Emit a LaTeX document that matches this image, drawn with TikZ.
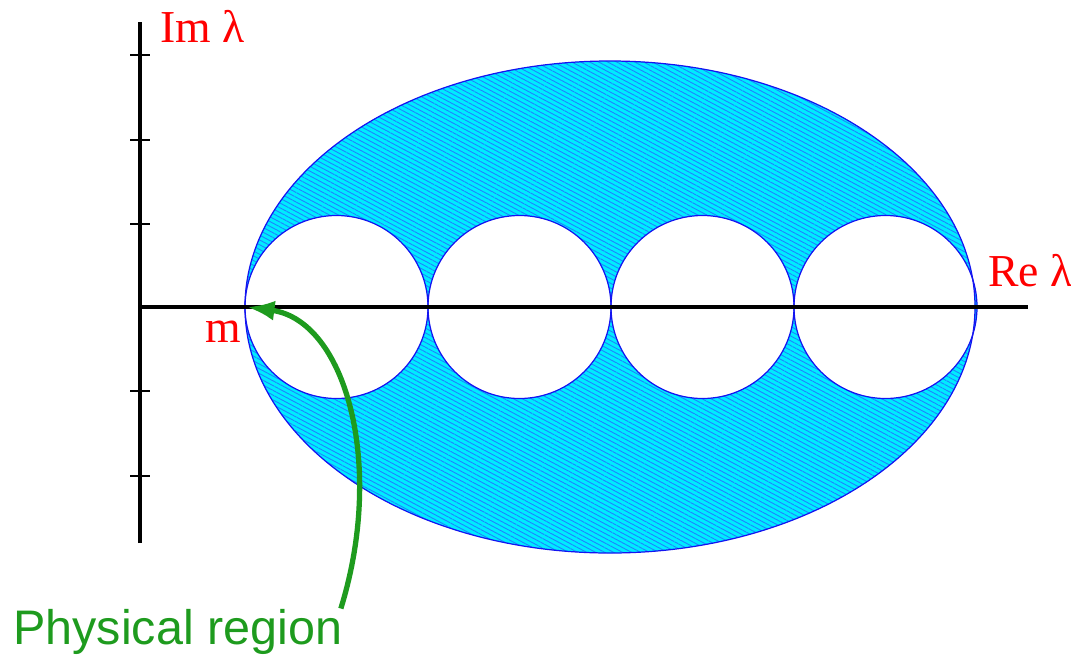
\documentclass[tikz,border=0pt]{standalone}
\usepackage{fontspec}
\setmainfont{Liberation Serif}
\setsansfont{Liberation Sans}
\usepackage{tikz}
\usetikzlibrary{arrows.meta,patterns.meta}
\definecolor{regioncyan}{RGB}{0,235,255}
\definecolor{hatchblue}{RGB}{30,130,255}
\definecolor{edgeblue}{RGB}{20,20,240}
\definecolor{labelred}{RGB}{255,0,0}
\definecolor{physgreen}{RGB}{30,155,30}
\tikzset{
  axisline/.style={line width=2.2pt, black},
  tickmark/.style={line width=0.9pt, black},
  edgeline/.style={edgeblue, line width=0.7pt},
  axislabel/.style={labelred, inner sep=0pt, font=\fontsize{26}{28}\selectfont},
  physlabel/.style={physgreen, inner sep=0pt, font=\sffamily\fontsize{27.6}{30}\selectfont},
  physarrow/.style={-{Latex[length=5.5mm,width=4mm]}, physgreen, line width=3pt}
}
\newcommand{\regionpath}{(9.4,0) ellipse [x radius=7.3, y radius=4.92]
  (3.93,0) circle [radius=1.83] (7.59,0) circle [radius=1.83]
  (11.25,0) circle [radius=1.83] (14.91,0) circle [radius=1.83]}

\begin{document}
\begin{tikzpicture}
  \useasboundingbox (-2.8,-6.98) rectangle (18.62,6.14);
  % shaded region: ellipse with four holes
  \fill[regioncyan, even odd rule] \regionpath;
  \fill[pattern={Lines[angle=-28, distance=2.4pt, line width=0.5pt]},
    pattern color=hatchblue, even odd rule] \regionpath;
  \draw[edgeline] (9.4,0) ellipse [x radius=7.3, y radius=4.92];
  \foreach \cx in {3.93,7.59,11.25,14.91}
    \draw[edgeline] (\cx,0) circle [radius=1.83];
  % axes
  \coordinate (origin) at (0,0);
  \coordinate (imtop) at (0,5.7);
  \coordinate (imbot) at (0,-4.72);
  \coordinate (reend) at (17.76,0);
  \draw[axisline] (imbot) -- (imtop);
  \draw[axisline] (origin) -- (reend);
  \foreach \ty in {5.04,3.34,1.66,-1.68,-3.38}
    \draw[tickmark] (-0.2,\ty) -- (0.2,\ty);
  \node[axislabel, anchor=base west] (imlabel) at (0.4,5.3) {Im λ};
  \node[axislabel, anchor=base west] (relabel) at (16.96,0.42) {Re λ};
  \node[axislabel, anchor=base east] (mlabel) at (2.02,-0.7) {m};
  \coordinate (mpt) at (2.14,0);
  % physical region
  \node[physlabel, anchor=base west] (phys) at (-2.54,-6.74) {Physical region};
  \draw[physarrow] ([xshift=-1pt]phys.north east)
    .. controls +(0.9,2.9) and +(1.96,-0.26) .. (mpt);
\end{tikzpicture}
\end{document}
